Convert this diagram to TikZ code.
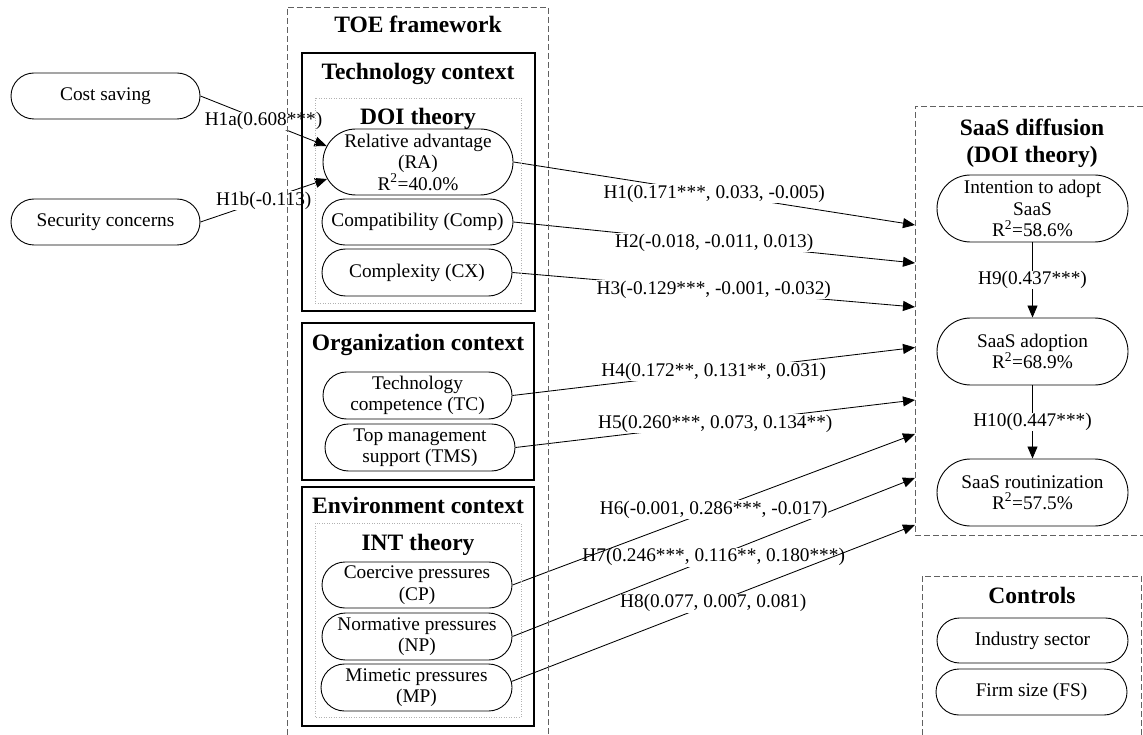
\documentclass[tikz,border=0pt]{standalone}
\usepackage{fontspec}
\setmainfont{Liberation Serif}
\usetikzlibrary{arrows.meta,calc}
\newcommand{\nodetext}{\fontsize{19.3}{21.5}\selectfont}
\newcommand{\headtext}{\fontsize{23.5}{27}\selectfont\bfseries}
\tikzset{
  pill/.style n args={3}{draw, line width=0.9pt, rectangle, rounded corners=#3pt,
    minimum width=#1pt, minimum height=#2pt, inner sep=0pt, align=center, font=\nodetext},
  link/.style={line width=0.85pt},
  arr/.style={link, -{Triangle[length=12pt,width=10pt]}},
  lbl/.style={fill=white, inner sep=0.6pt, font=\nodetext},
  frame/.style={draw, line width=1.1pt},
  outer/.style={draw=black!62, line width=0.8pt, dash pattern=on 6pt off 3pt},
  inner/.style={draw=black!30, line width=0.7pt, dash pattern=on 1pt off 1.5pt},
  head/.style={font=\headtext, inner sep=0pt, anchor=base}
}
\begin{document}
\begin{tikzpicture}[x=1pt,y=-1pt]
\useasboundingbox (0,0) rectangle (1143,735);

% antecedents of relative advantage
\node[pill={189}{46}{23}] (cost) at (105.5,96) {Cost saving};
\node[pill={189}{46}{23}] (sec) at (105.5,222) {Security concerns};

% technology context
\node[pill={190}{66}{33}] (ra) at (418,162) {Relative advantage\\(RA)\\R\textsuperscript{2}=40.0\%};
\node[pill={191}{46}{23}] (comp) at (417.5,222) {Compatibility (Comp)};
\node[pill={190}{47}{23.5}] (cx) at (417,272.5) {Complexity (CX)};

% organization context
\node[pill={189}{47}{23.5}] (tc) at (417.5,395.5) {Technology\\competence (TC)};
\node[pill={190}{47}{23.5}] (tms) at (420,447.5) {Top management\\support (TMS)};

% environment context
\node[pill={190}{46}{23}] (cp) at (417,585) {Coercive pressures\\(CP)};
\node[pill={190}{47}{23.5}] (np) at (417,636.5) {Normative pressures\\(NP)};
\node[pill={191}{47}{23.5}] (mp) at (416.5,687.5) {Mimetic pressures\\(MP)};

% SaaS diffusion stages
\node[pill={191}{67}{33.5}] (int) at (1032.5,208.5) {Intention to adopt\\SaaS\\R\textsuperscript{2}=58.6\%};
\node[pill={191}{67}{33.5}] (adop) at (1032.5,351.5) {SaaS adoption\\R\textsuperscript{2}=68.9\%};
\node[pill={191}{67}{33.5}] (rout) at (1032.5,492.5) {SaaS routinization\\R\textsuperscript{2}=57.5\%};

% controls
\node[pill={191}{45}{22.5}] (ind) at (1032.5,640.5) {Industry sector};
\node[pill={191}{46}{23}] (fs) at (1031.5,692) {Firm size (FS)};

% entry points on the SaaS diffusion frame
\coordinate (e1) at (915,225);
\coordinate (e2) at (915,263);
\coordinate (e3) at (915,307);
\coordinate (e4) at (915,347.5);
\coordinate (e5) at (915,400);
\coordinate (e6) at (915,434);
\coordinate (e7) at (915,478);
\coordinate (e8) at (915,525);

% hypotheses
\draw[arr] (cost.east) -- node[lbl] (l1a) {H1a(0.608***)} ($(ra.west)+(4,-16)$);
\draw[arr] (sec.east) -- node[lbl] (l1b) {H1b(-0.113)} ($(ra.west)+(4.5,17)$);

\draw[arr] (np.east) -- node[lbl] (l7) {H7(0.246***, 0.116**, 0.180***)} (e7);
\draw[arr] (ra.east) -- node[lbl] (l1) {H1(0.171***, 0.033, -0.005)} (e1);
\draw[arr] (comp.east) -- node[lbl] (l2) {H2(-0.018, -0.011, 0.013)} (e2);
\draw[arr] (cx.east) -- node[lbl] (l3) {H3(-0.129***, -0.001, -0.032)} (e3);
\draw[arr] (tc.east) -- node[lbl] (l4) {H4(0.172**, 0.131**, 0.031)} (e4);
\draw[arr] (tms.east) -- node[lbl] (l5) {H5(0.260***, 0.073, 0.134**)} (e5);
\draw[arr] (cp.east) -- node[lbl] (l6) {H6(-0.001, 0.286***, -0.017)} (e6);
\draw[arr] ($(mp.east)+(-1,-6)$) -- node[lbl] (l8) {H8(0.077, 0.007, 0.081)} (e8);

\draw[arr] (int.south) -- node[lbl] (l9) {H9(0.437***)} (adop.north);
\draw[arr] (adop.south) -- node[lbl] (l10) {H10(0.447***)} (rout.north);

% TOE framework frames and headings
\draw[outer] (287,735) -- (287,7) -- (548,7) -- (548,735);
\node[head] (toe) at (418,33) {TOE framework};
\draw[frame] (302,53) rectangle (535,311);
\node[head] (tech) at (418,80) {Technology context};
\draw[inner] (315,98) rectangle (521,303);
\node[head] (doi) at (418,125) {DOI theory};
\draw[frame] (302,323) rectangle (534,480);
\node[head] (org) at (418,350) {Organization context};
\draw[frame] (302,487) rectangle (534,726);
\node[head] (env) at (418,513) {Environment context};
\draw[inner] (315,523) rectangle (521,717);
\node[head] (intt) at (418,550) {INT theory};

% SaaS diffusion frame
\draw[outer] (1143,106) -- (915,106) -- (915,535) -- (1143,535);
\node[head] (diff) at (1032,136) {SaaS diffusion};
\node[head] (diffdoi) at (1032,163) {(DOI theory)};

% controls frame
\draw[outer] (922,735) -- (922,576) -- (1141,576) -- (1141,735);
\node[head] (ctrl) at (1032,603) {Controls};
\end{tikzpicture}
\end{document}
